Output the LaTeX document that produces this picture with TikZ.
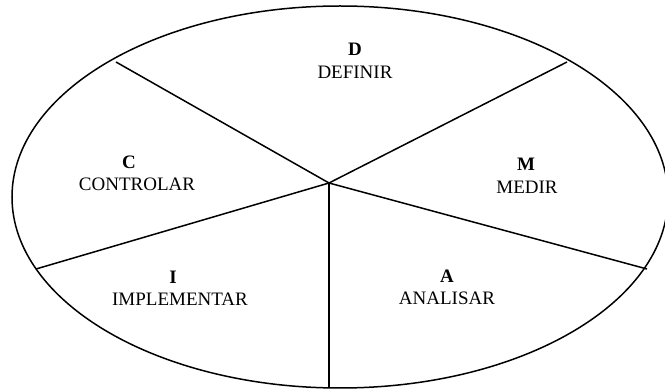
\documentclass[tikz,border=0pt]{standalone}
\usepackage{fontspec}
\setmainfont{Liberation Serif}
\begin{document}
\begin{tikzpicture}[x=1pt,y=-1pt,
  line/.style={line width=1.5pt,black},
  lab/.style={font=\fontsize{19}{22}\selectfont,inner sep=0pt,anchor=center},
  letter/.style={font=\fontsize{19}{22}\selectfont\bfseries,inner sep=0pt,anchor=center}]
\useasboundingbox (0,0) rectangle (665,390);
\fill[white] (0,0) rectangle (665,390);
\draw[line] (340,197) ellipse [x radius=328, y radius=191];
\coordinate (O) at (329,183);
\coordinate (eUL) at (116,62);
\coordinate (eUR) at (567,62);
\coordinate (eR) at (647,269);
\coordinate (eB) at (329,388);
\coordinate (eL) at (36,269);
\draw[line] (O) -- (eUL);
\draw[line] (O) -- (eUR);
\draw[line] (O) -- (eR);
\draw[line] (O) -- (eB);
\draw[line] (O) -- (eL);
\node[letter] (lD) at (355,49) {D};
\node[lab] (tD) at (355,72) {DEFINIR};
\node[letter] (lM) at (526,164) {M};
\node[lab] (tM) at (527,187) {MEDIR};
\node[letter] (lC) at (129,162) {C};
\node[lab] (tC) at (137,184) {CONTROLAR};
\node[letter] (lI) at (173,277) {I};
\node[lab] (tI) at (180,299) {IMPLEMENTAR};
\node[letter] (lA) at (447,276) {A};
\node[lab] (tA) at (447,298) {ANALISAR};
\end{tikzpicture}
\end{document}
